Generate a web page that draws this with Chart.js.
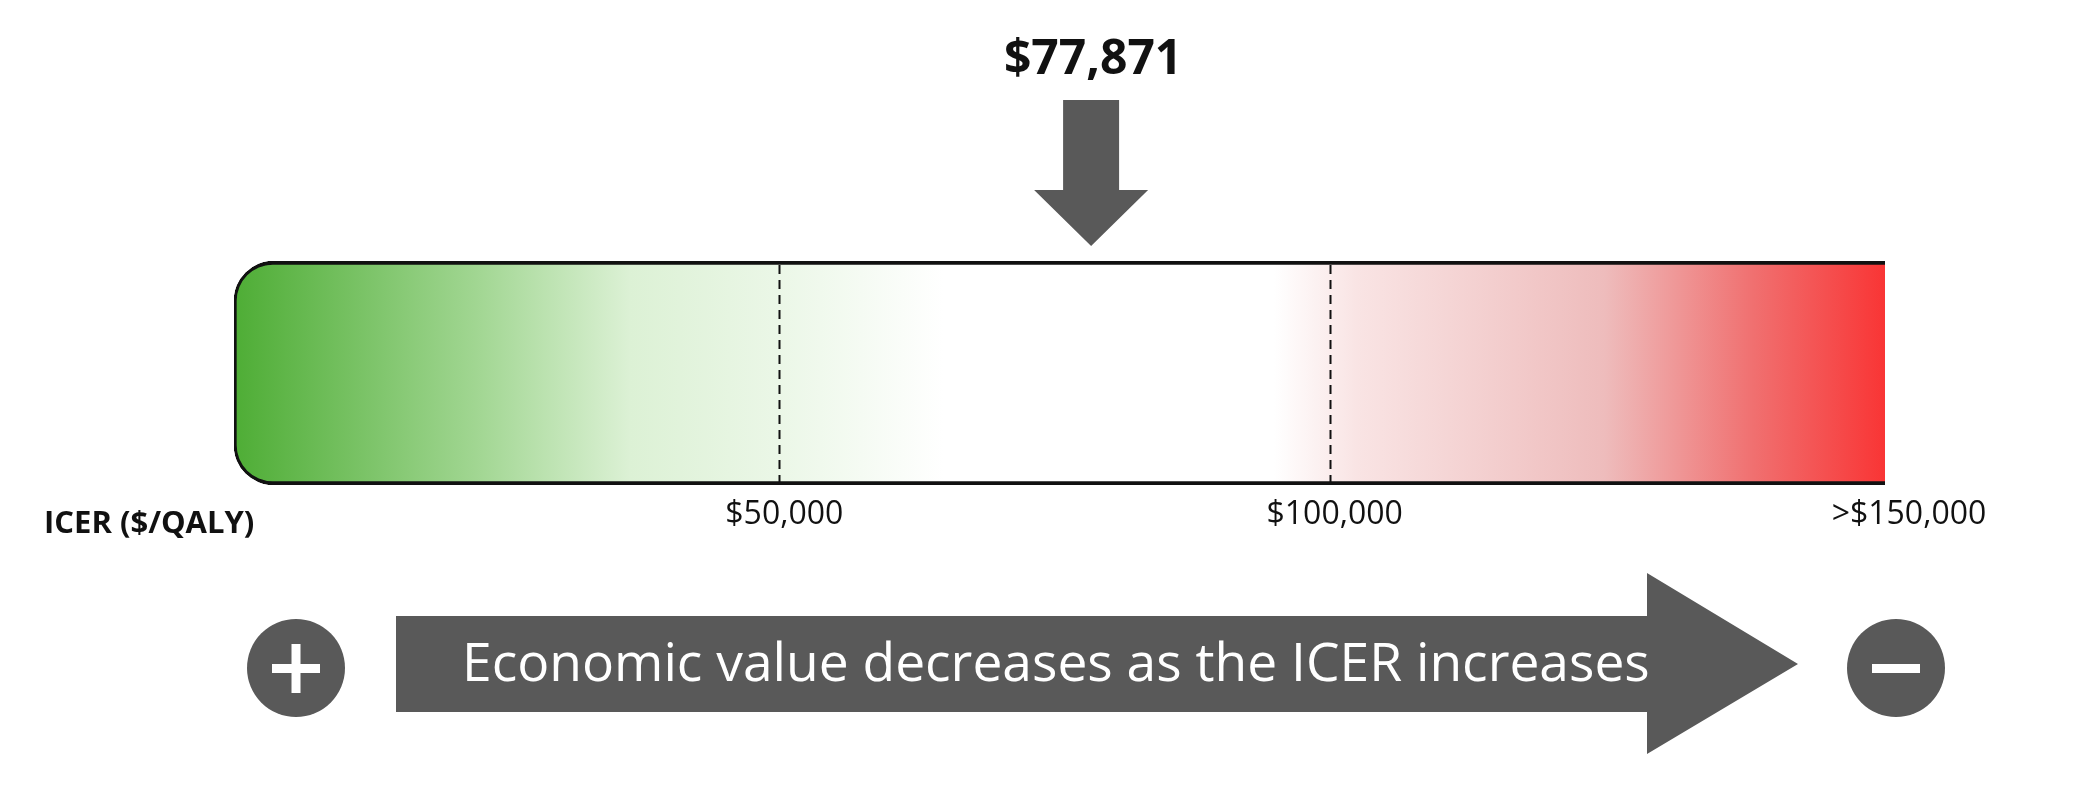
<!DOCTYPE html>
<html><head><meta charset="utf-8">
<script src="https://cdn.jsdelivr.net/npm/chart.js@4/dist/chart.umd.min.js"></script>
<style>html,body{margin:0;padding:0;background:#fff}#wrap{width:2100px;height:794px}</style>
</head><body><div id="wrap"><canvas id="c" width="2100" height="794"></canvas></div>
<script>
const categories = ['ICER'];
const rangeValues = [[0, 150000]];
const thresholds = [50000, 100000];
const tickValues = [50000, 100000, 150000];
const tickLabels = ['$50,000', '$100,000', '>$150,000'];
const markerValue = [77871];
const markerLabel = ['$77,871'];
const axisTitle = 'ICER ($/QALY)';
const bottomText = 'Economic value decreases as the ICER increases';
const GREY = '#595959';

const overlay = {
  id: 'overlay',
  afterDatasetsDraw(chart) {
    const ctx = chart.ctx, x = chart.scales.x, a = chart.chartArea;
    ctx.save();
    ctx.strokeStyle = '#111'; ctx.lineWidth = 2; ctx.setLineDash([9, 6]);
    thresholds.forEach(v => {
      const px = Math.round(x.getPixelForValue(v)) - 4.5;
      ctx.beginPath(); ctx.moveTo(px, a.top + 4); ctx.lineTo(px, a.bottom - 3); ctx.stroke();
    });
    ctx.setLineDash([]);
    ctx.fillStyle = '#111'; ctx.font = '32px "Open Sans"'; ctx.textAlign = 'center'; ctx.textBaseline = 'middle';
    tickValues.forEach((v, i) => {
      let px = x.getPixelForValue(v);
      if (i === tickValues.length - 1) px += 24;
      ctx.fillText(tickLabels[i], px, a.bottom + 30);
    });
    ctx.font = 'bold 31px "Open Sans"'; ctx.textAlign = 'left';
    ctx.fillText(axisTitle, 44, a.bottom + 39);
    const mx = x.getPixelForValue(markerValue[0]);
    ctx.fillStyle = GREY;
    ctx.beginPath();
    ctx.moveTo(mx - 28, 100); ctx.lineTo(mx + 28, 100); ctx.lineTo(mx + 28, 190);
    ctx.lineTo(mx + 57, 190); ctx.lineTo(mx, 246); ctx.lineTo(mx - 57, 190); ctx.lineTo(mx - 28, 190);
    ctx.closePath(); ctx.fill();
    ctx.fillStyle = '#111'; ctx.font = 'bold 48px "Open Sans"'; ctx.textAlign = 'center';
    ctx.fillText(markerLabel[0], mx + 2, 60);
    ctx.fillStyle = GREY;
    ctx.beginPath();
    ctx.moveTo(396, 616); ctx.lineTo(1647, 616); ctx.lineTo(1647, 573); ctx.lineTo(1798, 664);
    ctx.lineTo(1647, 754); ctx.lineTo(1647, 712); ctx.lineTo(396, 712); ctx.closePath(); ctx.fill();
    [296, 1896].forEach((cx, i) => {
      ctx.fillStyle = GREY; ctx.beginPath(); ctx.arc(cx, 668, 49, 0, Math.PI * 2); ctx.fill();
      ctx.fillStyle = '#fff';
      ctx.fillRect(cx - 24, 664, 48, 9);
      if (i === 0) ctx.fillRect(cx - 4.5, 644, 9, 49);
    });
    ctx.fillStyle = '#fff';
    let fs = 44; ctx.font = fs + 'px "Open Sans"';
    const w = ctx.measureText(bottomText).width;
    fs = fs * 1188 / w; ctx.font = fs + 'px "Open Sans"';
    ctx.textAlign = 'left';
    ctx.fillText(bottomText, 462, 666);
    ctx.restore();
  }
};

new Chart(document.getElementById('c'), {
  type: 'bar',
  data: {
    labels: categories,
    datasets: [{
      data: rangeValues,
      backgroundColor(c) {
        const a = c.chart.chartArea;
        if (!a) return '#fff';
        const g = c.chart.ctx.createLinearGradient(a.left, 0, a.right, 0);
        g.addColorStop(0, '#4ead35');
        g.addColorStop(0.15, '#a3d794');
        g.addColorStop(0.24, '#dcf1d5');
        g.addColorStop(0.33, '#ebf7e7');
        g.addColorStop(0.43, '#ffffff');
        g.addColorStop(0.63, '#ffffff');
        g.addColorStop(0.68, '#f9e4e4');
        g.addColorStop(0.83, '#eebcbc');
        g.addColorStop(0.92, '#f07070');
        g.addColorStop(1, '#f93535');
        return g;
      },
      borderColor: '#111',
      borderWidth: { top: 4, bottom: 4, left: 3, right: 0 },
      borderSkipped: false,
      borderRadius: { topLeft: 40, bottomLeft: 40, topRight: 0, bottomRight: 0 },
      barPercentage: 1, categoryPercentage: 1
    }]
  },
  options: {
    indexAxis: 'y', responsive: false, animation: false,
    layout: { padding: { left: 234, right: 215, top: 261, bottom: 309 } },
    scales: {
      x: { display: false, min: 0, max: 150000 },
      y: { display: false }
    },
    plugins: { legend: { display: false }, tooltip: { enabled: false } }
  },
  plugins: [overlay]
});
</script></body></html>
